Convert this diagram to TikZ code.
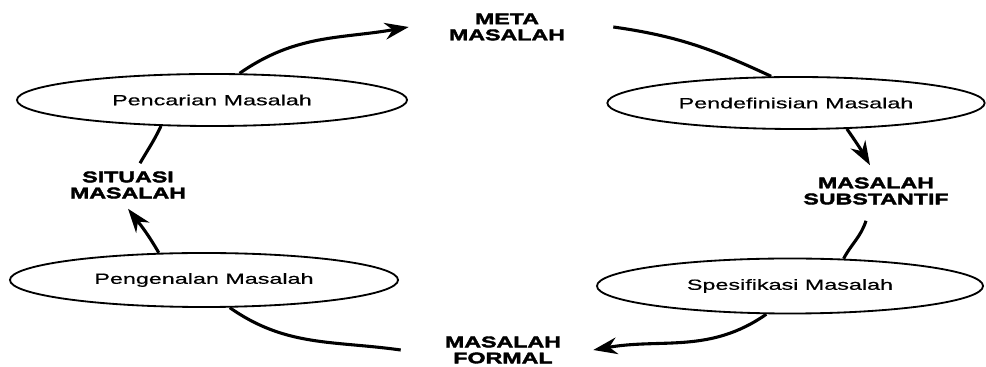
\documentclass[tikz,border=0pt]{standalone}
\usepackage{fontspec}
\newfontfamily\stagefont[FakeStretch=1.58,FakeBold=0.6]{Liberation Sans}
\newfontfamily\tagfont[FakeStretch=1.5,BoldFeatures={FakeBold=2.5}]{Liberation Sans}
\usetikzlibrary{arrows.meta, shapes.geometric, positioning}

\begin{document}
\begin{tikzpicture}[x=0.025cm, y=0.025cm, >={Stealth[length=6mm, width=4.2mm]},
    stage/.style={draw, ellipse, line width=1.3pt, inner sep=0pt, minimum height=1.3cm, font=\stagefont\fontsize{10.5}{12}\selectfont},
    tag/.style={align=center, inner sep=0pt, font=\tagfont\bfseries\fontsize{11}{11.4}\selectfont},
    flow/.style={line width=2.2pt}]
    \useasboundingbox (0,0) rectangle (986,367);

    % Stages
    \node[stage, minimum width=9.75cm] (pencarian) at (212,267) {Pencarian Masalah};
    \node[stage, minimum width=9.43cm] (pendefinisian) at (796,264) {Pendefinisian Masalah};
    \node[stage, minimum width=9.7cm, minimum height=1.35cm] (pengenalan) at (204,87) {Pengenalan Masalah};
    \node[stage, minimum width=9.65cm, minimum height=1.375cm] (spesifikasi) at (790,81) {Spesifikasi Masalah};

    % Problem kinds
    \node[tag] (meta) at (507,340) {META\\MASALAH};
    \node[tag] (substantif) at (876,176) {MASALAH\\SUBSTANTIF};
    \node[tag] (formal) at (503,17) {MASALAH\\FORMAL};
    \node[tag] (situasi) at (128,182) {SITUASI\\MASALAH};

    % Cycle
    \draw[flow, ->] (pencarian.44) to[out=35, in=190] ([xshift=-1cm]meta.west);
    \draw[flow] ([xshift=1.2cm]meta.east) to[out=-8, in=155] (pendefinisian.133);
    \draw[flow, ->] (pendefinisian.-27) to[out=-55, in=120] ([shift={(-0.15cm,0.3cm)}]substantif.north);
    \draw[flow] ([shift={(-0.25cm,-0.4cm)}]substantif.south) to[out=-108, in=62] (spesifikasi.27);
    \draw[flow, ->] (spesifikasi.-130) to[out=-145, in=10] ([xshift=0.8cm]formal.east);
    \draw[flow] ([xshift=-1.1cm]formal.west) to[out=172, in=-35] (pengenalan.-47);
    \draw[flow, ->] (pengenalan.149) to[out=120, in=-52] ([yshift=-0.25cm]situasi.south);
    \draw[flow] ([shift={(0.3cm,0.2cm)}]situasi.north) to[out=60, in=-115] (pencarian.-153);
\end{tikzpicture}
\end{document}
